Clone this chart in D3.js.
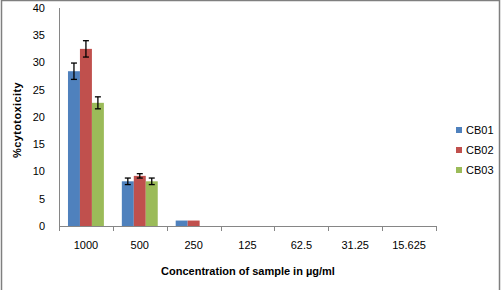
<!DOCTYPE html>
<html lang="en">
<head>
<meta charset="UTF-8">
<title>cytotoxicity</title>
<script src="https://cdn.jsdelivr.net/npm/d3@7"></script>
<style>
  body { margin: 0; background: #fff; }
  text { font-family: "Liberation Sans", Arial, sans-serif; fill: #000; }
</style>
</head>
<body>
<svg id="chart"></svg>
<script>
// data
const concentrations = ['1000', '500', '250', '125', '62.5', '31.25', '15.625'];
const seriesNames = ['CB01', 'CB02', 'CB03'];
const cb01 = [28.4, 8.2, 1.0, 0, 0, 0, 0];
const cb02 = [32.5, 9.2, 1.0, 0, 0, 0, 0];
const cb03 = [22.6, 8.2, 0, 0, 0, 0, 0];
const cb01Err = [1.5, 0.6, 0, 0, 0, 0, 0];
const cb02Err = [1.5, 0.4, 0, 0, 0, 0, 0];
const cb03Err = [1.1, 0.6, 0, 0, 0, 0, 0];
const yTicks = [0, 5, 10, 15, 20, 25, 30, 35, 40];
const colors = ['#4f81bd', '#c0504d', '#9bbb59'];

const width = 502, height = 290;
const plot = {left: 59, right: 436, top: 8, bottom: 226};

const svg = d3.select('#chart').attr('width', width).attr('height', height);

// chart border
svg.append('rect')
   .attr('x', 1.5).attr('y', 0.5)
   .attr('width', 498).attr('height', 300)
   .attr('fill', 'none').attr('stroke', '#7f7f7f').attr('stroke-width', 1.5);

const x = d3.scaleBand().domain(concentrations).range([plot.left, plot.right]);
const inner = d3.scaleBand().domain(seriesNames)
                .range([0, x.bandwidth()]).paddingOuter(0.75);
const y = d3.scaleLinear().domain([0, 40]).range([plot.bottom, plot.top]);

const values = [cb01, cb02, cb03];
const errs = [cb01Err, cb02Err, cb03Err];

// y axis
svg.append('line')
   .attr('x1', plot.left + 0.5).attr('x2', plot.left + 0.5)
   .attr('y1', plot.top).attr('y2', plot.bottom)
   .attr('stroke', '#868686');
svg.append('g').selectAll('text').data(yTicks).enter().append('text')
   .attr('x', 45).attr('y', d => y(d)).attr('dy', '0.35em')
   .attr('text-anchor', 'end').style('font-size', '11px')
   .text(d => d);

// x axis
svg.append('line')
   .attr('x1', plot.left).attr('x2', plot.right)
   .attr('y1', plot.bottom + 0.5).attr('y2', plot.bottom + 0.5)
   .attr('stroke', '#868686');
const boundaries = concentrations.map(c => x(c)).concat([plot.right]);
svg.append('g').selectAll('line').data(boundaries).enter().append('line')
   .attr('x1', d => Math.round(d) + 0.5).attr('x2', d => Math.round(d) + 0.5)
   .attr('y1', plot.bottom).attr('y2', plot.bottom + 5)
   .attr('stroke', '#868686');
svg.append('g').selectAll('text').data(concentrations).enter().append('text')
   .attr('x', d => x(d) + x.bandwidth() / 2).attr('y', 245).attr('dy', '0.35em')
   .attr('text-anchor', 'middle').style('font-size', '11px')
   .text(d => d);

// bars
seriesNames.forEach((s, i) => {
  const g = svg.append('g');
  g.selectAll('rect').data(values[i]).enter().append('rect')
   .attr('x', (d, j) => x(concentrations[j]) + inner(s))
   .attr('y', d => y(d))
   .attr('width', inner.bandwidth())
   .attr('height', d => y(0) - y(d))
   .attr('fill', colors[i]);

  // error bars
  const eb = g.selectAll('g.err')
              .data(values[i].map((v, j) => ({v, e: errs[i][j], c: concentrations[j]})).filter(d => d.e > 0))
              .enter().append('g').attr('class', 'err');
  const cx = d => x(d.c) + inner(s) + inner.bandwidth() / 2;
  eb.append('line')
    .attr('x1', cx).attr('x2', cx)
    .attr('y1', d => y(d.v + d.e)).attr('y2', d => y(d.v - d.e))
    .attr('stroke', '#000').attr('stroke-width', 1.3);
  [1, -1].forEach(sign => {
    eb.append('line')
      .attr('x1', d => cx(d) - 3).attr('x2', d => cx(d) + 3)
      .attr('y1', d => y(d.v + sign * d.e)).attr('y2', d => y(d.v + sign * d.e))
      .attr('stroke', '#000').attr('stroke-width', 1.3);
  });
});

// axis titles
svg.append('text')
   .attr('transform', `translate(17, ${(plot.top + plot.bottom) / 2 + 3}) rotate(-90)`)
   .attr('dy', '0.35em').attr('text-anchor', 'middle')
   .style('font-size', '11px').style('font-weight', 'bold')
   .style('letter-spacing', '0.4px')
   .text('%cytotoxicity');
svg.append('text')
   .attr('x', 248).attr('y', 271).attr('dy', '0.35em')
   .attr('text-anchor', 'middle')
   .style('font-size', '11px').style('font-weight', 'bold')
   .text('Concentration of sample in µg/ml');

// legend
const legend = svg.append('g').selectAll('g').data(seriesNames).enter().append('g')
                  .attr('transform', (d, i) => `translate(456, ${130 + i * 20})`);
legend.append('rect').attr('x', 0).attr('y', -3).attr('width', 6).attr('height', 6)
      .attr('fill', (d, i) => colors[i]);
legend.append('text').attr('x', 10).attr('y', 0).attr('dy', '0.35em')
      .style('font-size', '11px').text(d => d);
</script>
</body>
</html>
